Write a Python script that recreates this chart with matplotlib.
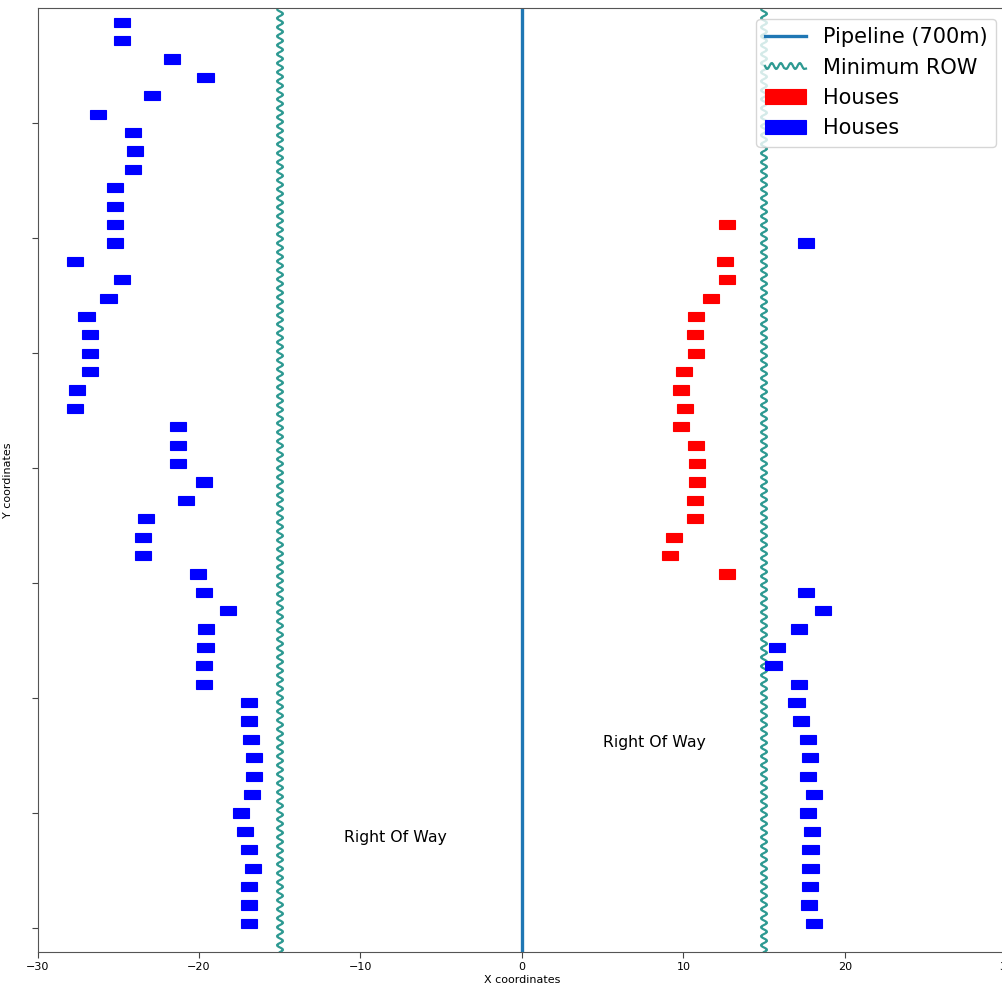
import matplotlib
matplotlib.use("Agg")
import matplotlib.pyplot as plt

# ---------------- data ----------------
pipeline_x = 0
row_half_width = 15          # minimum right-of-way offset either side
house_width = 1
house_height = 8

# left side houses (top to bottom)
left_y = [784, 768, 752, 736, 720, 704, 688, 672, 656, 640,
          624, 608, 592, 576, 560, 544, 528, 512, 496, 480,
          464, 448, 432, 416, 400, 384, 368, 352, 336, 320,
          304, 288, 272, 256, 240, 224, 208, 192, 176, 160,
          144, 128, 112, 96, 80, 64, 48, 32, 16, 0]
left_x = [-24.75, -24.75, -21.67, -19.6, -22.9, -26.25, -24.1, -23.96, -24.1, -25.18,
          -25.18, -25.18, -25.18, -27.68, -24.75, -25.6, -26.97, -26.75, -26.75, -26.75,
          -27.57, -27.68, -21.3, -21.3, -21.3, -19.67, -20.8, -23.3, -23.47, -23.47,
          -20.08, -19.67, -18.22, -19.59, -19.6, -19.67, -19.67, -16.88, -16.88, -16.8,
          -16.57, -16.57, -16.7, -17.38, -17.15, -16.88, -16.66, -16.88, -16.88, -16.88]

# right side houses (top to bottom); flag 1 = red (inside), 0 = blue
right_y = [608, 592, 576, 560, 544, 528, 512, 496, 480, 464,
           448, 432, 416, 400, 384, 368, 352, 336, 320, 304,
           288, 272, 256, 240, 224, 208, 192, 176, 160, 144,
           128, 112, 96, 80, 64, 48, 32, 16, 0]
right_x = [12.69, 17.57, 12.57, 12.69, 11.7, 10.77, 10.69, 10.77, 10.05, 9.85,
           10.11, 9.85, 10.77, 10.84, 10.84, 10.71, 10.71, 9.41, 9.16, 12.69,
           17.57, 18.64, 17.15, 15.77, 15.58, 17.15, 17.0, 17.3, 17.73, 17.83,
           17.73, 18.08, 17.73, 17.94, 17.87, 17.87, 17.83, 17.79, 18.08]
right_red = [1, 0, 1, 1, 1, 1, 1, 1, 1, 1,
             1, 1, 1, 1, 1, 1, 1, 1, 1, 1,
             0, 0, 0, 0, 0, 0, 0, 0, 0, 0,
             0, 0, 0, 0, 0, 0, 0, 0, 0]

y_ticks = [0, 100, 200, 300, 400, 500, 600, 700]
x_ticks = [-30, -20, -10, 0, 10, 20, 30]

# ---------------- plot ----------------
fig = plt.figure(figsize=(10.03, 9.88), dpi=100)
ax = fig.add_axes([0.0374, 0.0364, 0.966, 0.955])

ax.axvline(pipeline_x, color='#1f77b4', lw=2.4, label='Pipeline (700m)', zorder=2)
row_l = ax.axvline(-row_half_width, color='#2e9a92', lw=1.6, label='Minimum ROW', zorder=2)
row_r = ax.axvline(row_half_width, color='#2e9a92', lw=1.6, zorder=2)
for ln in (row_l, row_r):
    ln.set_sketch_params(scale=3, length=9, randomness=1)

red_x = [x for x, r in zip(right_x, right_red) if r]
red_y = [y for y, r in zip(right_y, right_red) if r]
blue_x = left_x + [x for x, r in zip(right_x, right_red) if not r]
blue_y = left_y + [y for y, r in zip(right_y, right_red) if not r]

ax.bar(red_x, house_height, width=house_width, bottom=red_y, color='#ff0000',
       edgecolor='#ff0000', lw=0.8, label='Houses', zorder=3)
ax.bar(blue_x, house_height, width=house_width, bottom=blue_y, color='#0000ff',
       edgecolor='#0000ff', lw=0.8, label='Houses', zorder=3)

ax.text(-11, 79, 'Right Of Way', fontsize=11.3, va='center', ha='left')
ax.text(5, 161, 'Right Of Way', fontsize=11.3, va='center', ha='left')

ax.set_xlim(-30, 30)
ax.set_ylim(-21, 800)
ax.set_xticks(x_ticks)
ax.set_yticks(y_ticks)
ax.set_yticklabels([])
ax.tick_params(labelsize=8, length=4, color='#444444')
for s in ax.spines.values():
    s.set_color('#555555')
ax.set_xlabel('X coordinates', fontsize=8, labelpad=2)
ax.set_ylabel('Y coordinates', fontsize=8, labelpad=10)

ax.legend(loc='upper right', fontsize=15)

fig.savefig('out.png', dpi=100)
